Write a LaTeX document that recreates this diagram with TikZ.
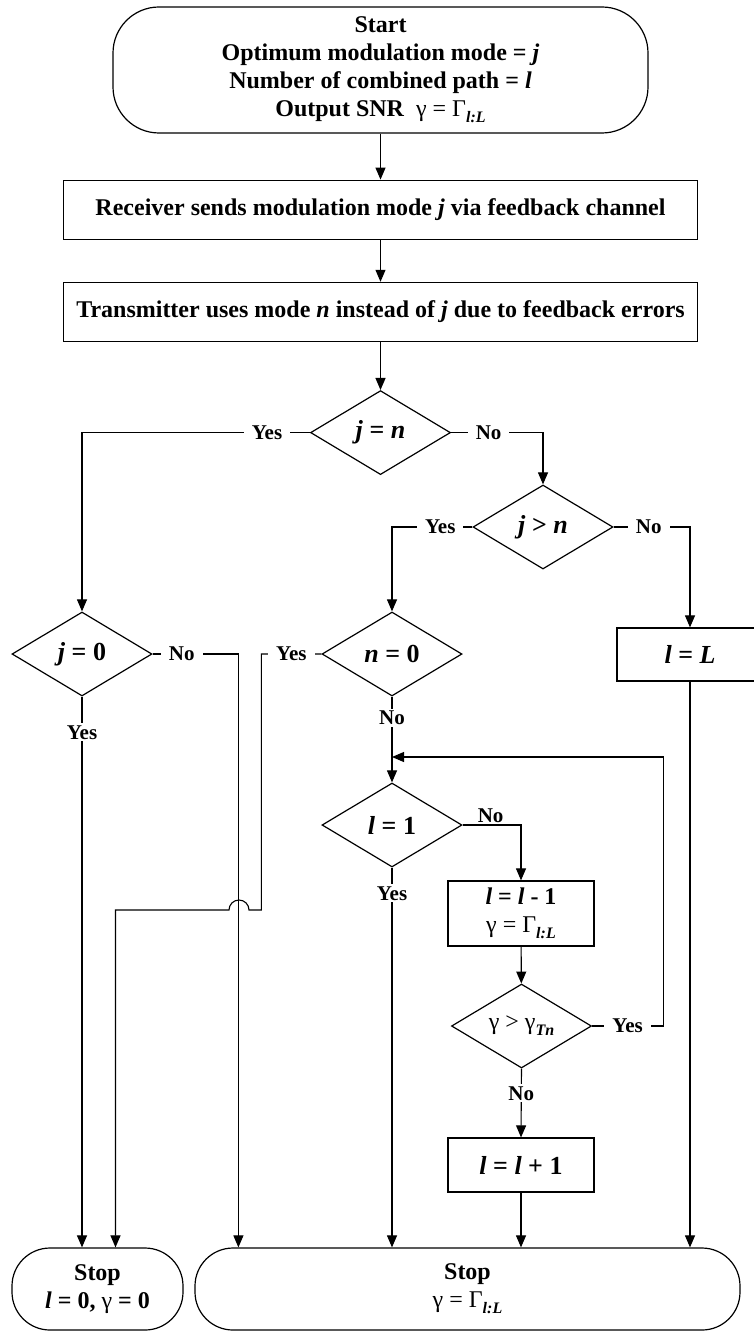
\documentclass[tikz,border=0pt]{standalone}
\usepackage{fontspec}
\setmainfont{Liberation Serif}
\usetikzlibrary{arrows.meta,positioning,shapes.geometric}

\newcommand{\vr}[1]{\textit{#1}}
\newcommand{\gam}{{\mdseries γ}}
\newcommand{\lowsub}[1]{\raisebox{-0.55ex}{\fontsize{16}{16}\selectfont\textit{#1}}}
\newcommand{\gG}{{\mdseries γ = Γ}\lowsub{l:L}}

\begin{document}
\begin{tikzpicture}[
  x=1pt, y=1pt,
  font=\fontsize{24}{28}\selectfont\bfseries,
  term/.style={rectangle, draw, line width=1.2pt, align=center},
  proc/.style={rectangle, draw, line width=1.2pt, align=center, inner sep=0pt},
  dec/.style={diamond, draw, line width=1.2pt, aspect=1.67, minimum width=140pt,
              minimum height=84pt, inner sep=0pt, font=\fontsize{26}{28}\selectfont\bfseries},
  big/.style={font=\fontsize{26}{28}\selectfont\bfseries},
  arr/.style={-{Triangle[length=12pt, width=10pt]}, line width=1.1pt},
  lbl/.style={fill=white, inner xsep=8pt, inner ysep=2pt, font=\fontsize{21}{24}\selectfont\bfseries},
]
  \useasboundingbox (0,0) rectangle (754,-1332);

  % Top chain
  \node[term, rounded corners=46pt, minimum width=535pt, minimum height=126pt]
    (start) at (380.5,-70) {Start\\Optimum modulation mode = \vr{j}\\
    Number of combined path = \vr{l}\\Output SNR~ \gG};
  \node[proc, minimum width=634pt, minimum height=59pt, below=46pt of start]
    (recv) {Receiver sends modulation mode \vr{j} via feedback channel};
  \node[proc, minimum width=634pt, minimum height=59pt, below=42pt of recv]
    (trans) {Transmitter uses mode \vr{n} instead of \vr{j} due to feedback errors};
  \node[dec, below=48pt of trans] (jeqn) {\vr{j} = \vr{n}};

  % Decisions
  \node[dec] (jgtn) at (543,-527) {\vr{j} > \vr{n}};
  \node[dec] (jzero) at (82,-654) {\vr{j} = 0};
  \node[dec] (nzero) at (392,-654) {\vr{n} = 0};
  \node[proc, big, minimum width=146pt, minimum height=53pt] (lL) at (690,-654.5) {\vr{l} = \vr{L}};
  \node[dec] (lone) at (392,-825) {\vr{l} = 1};

  % Loop
  \node[proc, minimum width=146pt, minimum height=65pt] (ldec) at (521,-913.5)
    {\vr{l} = \vr{l} - 1\\\gG};
  \node[dec, font=\fontsize{24}{28}\selectfont\bfseries] (gthr) at (521.5,-1026)
    {{\mdseries γ > γ}\lowsub{Tn}};
  \node[proc, big, minimum width=146pt, minimum height=54pt] (linc) at (521,-1165)
    {\vr{l} = \vr{l} + 1};

  % Stops
  \node[term, rounded corners=38pt, minimum width=171pt, minimum height=82pt]
    (stopL) at (97.5,-1289) {Stop\\\vr{l} = 0, \gam{} = 0};
  \node[term, rounded corners=38pt, minimum width=545pt, minimum height=82pt]
    (stopR) at (467.5,-1289) {Stop\\\gG};

  % Arrow end points
  \coordinate (sL1) at (jzero |- stopL.north);
  \coordinate (sL2) at ([xshift=18pt]stopL.north);
  \coordinate (sR1) at ([xshift=44pt]stopR.north west);
  \coordinate (sR2) at (nzero |- stopR.north);
  \coordinate (sR3) at (linc |- stopR.north);
  \coordinate (sR4) at (lL |- stopR.north);
  \coordinate (jmp) at (239,-910);
  \coordinate (back) at (392,-757);

  % Arrows
  \draw[arr] (start) -- (recv);
  \draw[arr] (recv) -- (trans);
  \draw[arr] (trans) -- (jeqn);
  \draw[arr] (jeqn.west) -| node[lbl, pos=0.094] {Yes} (jzero.north);
  \draw[arr] (jeqn.east) -| node[lbl, pos=0.204] {No} (jgtn.north);
  \draw[arr] (jgtn.west) -| node[lbl, pos=0.2] {Yes} (nzero.north);
  \draw[arr] (jgtn.east) -| node[lbl, pos=0.23] {No} (lL.north);
  \draw[arr] (jzero.east) -| node[lbl, pos=0.17] {No} (sR1);
  \draw[arr] (jzero.south) -- node[lbl, pos=0.065] {Yes} (sL1);
  \draw[arr] (nzero.west) -- node[lbl] {Yes} ++(-60,0) |- ([xshift=10pt]jmp)
    arc[start angle=0, end angle=180, radius=10pt] -| (sL2);
  \draw[arr] (nzero.south) -- node[lbl, pos=0.245] {No} (lone.north);
  \draw[arr] (lone.east) -| node[lbl, fill=none, above, pos=0.24] {No} (ldec.north);
  \draw[arr] (lone.south) -- node[lbl, pos=0.068] {Yes} (sR2);
  \draw[arr] (ldec) -- (gthr);
  \draw[arr] (gthr.east) -- node[lbl] {Yes} ++(71,0) |- (back);
  \draw[arr] (gthr.south) -- node[lbl, pos=0.36] {No} (linc.north);
  \draw[arr] (linc) -- (sR3);
  \draw[arr] (lL) -- (sR4);
\end{tikzpicture}
\end{document}
